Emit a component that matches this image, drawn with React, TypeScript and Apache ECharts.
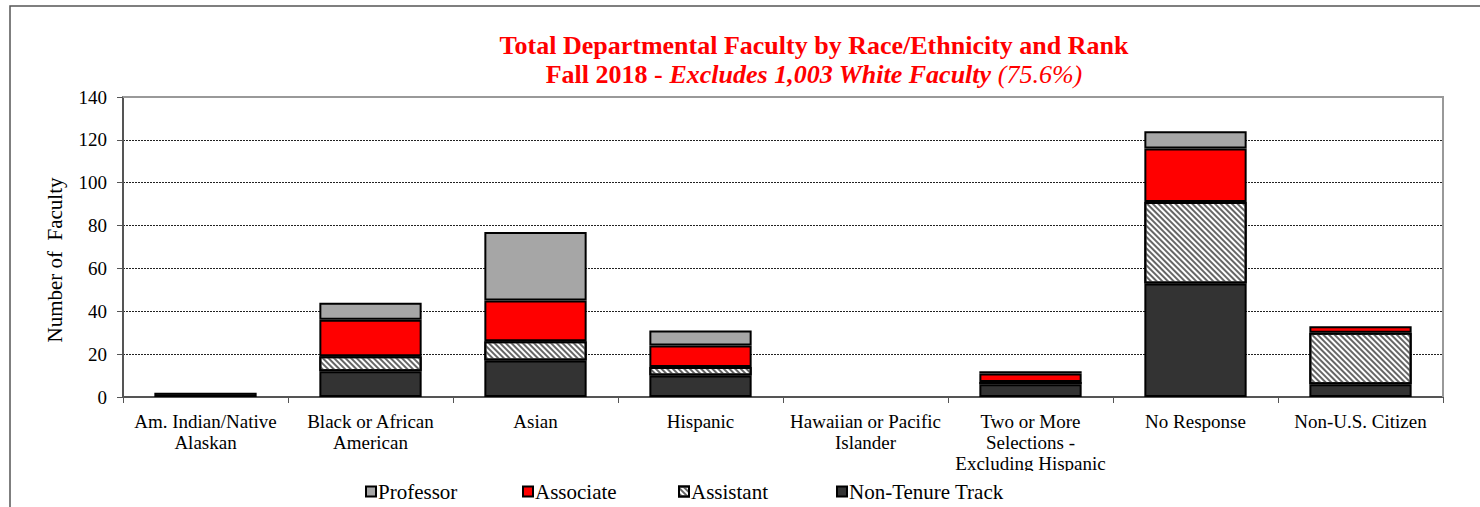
import React, { useEffect, useRef } from "react";
import * as echarts from "echarts";

const categories = [
  "Am. Indian/Native\nAlaskan",
  "Black or African\nAmerican",
  "Asian",
  "Hispanic",
  "Hawaiian or Pacific\nIslander",
  "Two or More\nSelections -\nExcluding Hispanic",
  "No Response",
  "Non-U.S. Citizen",
];

const nonTenureTrack = [2, 12, 17, 10, 0, 6, 53, 6];
const assistant = [0, 7, 9, 4, 0, 1, 38, 24];
const associate = [0, 17, 19, 10, 0, 4, 25, 3];
const professor = [0, 8, 32, 7, 0, 1, 8, 0];

const yTicks = [0, 20, 40, 60, 80, 100, 120, 140];

const legendNames = ["Professor", "Associate", "Assistant", "Non-Tenure Track"];
const legendLefts = [365, 522, 678, 836];

const FONT = "Liberation Serif";

export default function App() {
  const ref = useRef<HTMLDivElement>(null);

  useEffect(() => {
    if (!ref.current) return;
    const chart = echarts.init(ref.current, null, { renderer: "svg" });
    const toData = (arr: number[]) => arr.map((v) => (v === 0 ? null : v));
    const border = { borderColor: "#000", borderWidth: 2 };

    const option: any = {
      animation: false,
      backgroundColor: "#fff",
      textStyle: { fontFamily: FONT },
      grid: {
        left: 123,
        top: 97,
        right: 37,
        bottom: 110,
        show: false,
      },
      legend: legendNames.map((n, i) => ({
        data: [n],
        left: legendLefts[i],
        top: 481,
        itemWidth: 10,
        itemHeight: 10,
        icon: "rect",
        itemGap: 0,
        padding: 0,
        selectedMode: false,
        textStyle: { fontSize: 21, fontFamily: FONT, color: "#000", padding: [0, 0, 0, -3] },
      })),
      xAxis: {
        type: "category",
        data: categories,
        axisLine: { lineStyle: { color: "#555", width: 2 } },
        axisTick: { show: true, length: 6, lineStyle: { color: "#555" }, alignWithLabel: false },
        axisLabel: {
          interval: 0,
          fontSize: 19,
          fontFamily: FONT,
          color: "#000",
          lineHeight: 21,
          margin: 14,
        },
      },
      yAxis: {
        type: "value",
        min: 0,
        max: 140,
        interval: 20,
        axisLine: { show: true, lineStyle: { color: "#555", width: 2 } },
        axisTick: { show: true, length: 6, lineStyle: { color: "#555" } },
        axisLabel: {
          fontSize: 19,
          fontFamily: FONT,
          color: "#000",
          margin: 16,
          formatter: (v: number) => (yTicks.includes(v) ? String(v) : ""),
        },
        splitLine: { show: true, lineStyle: { color: "#222", width: 1, type: [2, 1] } },
      },
      series: [
        {
          name: "Non-Tenure Track",
          type: "bar",
          stack: "total",
          barWidth: "62%",
          data: toData(nonTenureTrack),
          itemStyle: { color: "#333333", ...border },
        },
        {
          name: "Assistant",
          type: "bar",
          stack: "total",
          data: toData(assistant),
          itemStyle: {
            color: "#ffffff",
            ...border,
            decal: {
              symbol: "rect",
              symbolSize: 1,
              color: "#666666",
              backgroundColor: "#ffffff",
              dashArrayX: [1, 0],
              dashArrayY: [2, 1.5],
              rotation: Math.PI / 4,
            },
          },
        },
        {
          name: "Associate",
          type: "bar",
          stack: "total",
          data: toData(associate),
          itemStyle: { color: "#ff0000", ...border },
        },
        {
          name: "Professor",
          type: "bar",
          stack: "total",
          data: toData(professor),
          itemStyle: { color: "#a6a6a6", ...border },
        },
      ],
      graphic: [
        {
          type: "polyline",
          z: 100,
          shape: { points: [[10, 507], [10, 6], [1480, 6]] },
          style: { stroke: "#555", lineWidth: 1.5, fill: null },
        },
        {
          type: "polyline",
          z: 100,
          shape: { points: [[123, 97], [1443, 97], [1443, 397]] },
          style: { stroke: "#999", lineWidth: 2, fill: null },
        },
        {
          type: "rect",
          z: 100,
          shape: { x: 930, y: 471, width: 200, height: 10 },
          style: { fill: "#fff" },
        },
        {
          type: "text",
          z: 100,
          x: 55,
          y: 260,
          rotation: Math.PI / 2,
          style: {
            text: "Number of  Faculty",
            fontFamily: FONT,
            fontSize: 21,
            fill: "#000",
            align: "center",
            verticalAlign: "middle",
          },
        },
        {
          type: "text",
          z: 100,
          x: 814,
          y: 45,
          style: {
            text: "Total Departmental Faculty by Race/Ethnicity and Rank",
            fontFamily: FONT,
            fontSize: 26,
            fontWeight: "bold",
            fill: "#ff0000",
            align: "center",
            verticalAlign: "middle",
          },
        },
        {
          type: "text",
          z: 100,
          x: 814,
          y: 74,
          style: {
            text: "{a|Fall 2018 - }{b|Excludes 1,003 White Faculty }{c|(75.6%)}",
            fontFamily: FONT,
            fontSize: 26,
            fill: "#ff0000",
            align: "center",
            verticalAlign: "middle",
            rich: {
              a: { fontFamily: FONT, fontSize: 26, fontWeight: "bold", fill: "#ff0000" },
              b: { fontFamily: FONT, fontSize: 26, fontWeight: "bold", fontStyle: "italic", fill: "#ff0000" },
              c: { fontFamily: FONT, fontSize: 26, fontStyle: "italic", fill: "#ff0000" },
            },
          },
        },
      ],
    };

    chart.setOption(option);
    return () => chart.dispose();
  }, []);

  return (
    <div
      ref={ref}
      style={{ position: "fixed", left: 0, top: 0, width: 1480, height: 507 }}
    />
  );
}
